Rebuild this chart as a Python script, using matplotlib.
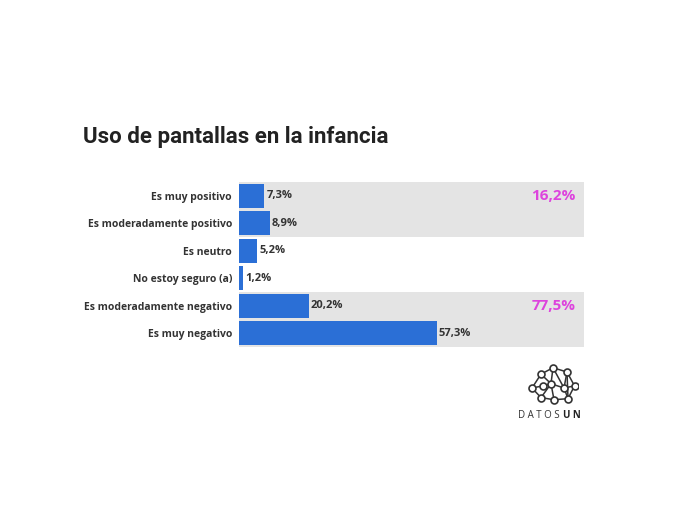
import matplotlib
matplotlib.use("Agg")
import matplotlib.pyplot as plt
from matplotlib.lines import Line2D

categories = ["Es muy positivo", "Es moderadamente positivo", "Es neutro",
              "No estoy seguro (a)", "Es moderadamente negativo", "Es muy negativo"]
values = [7.3, 8.9, 5.2, 1.2, 20.2, 57.3]
value_labels = ["7,3%", "8,9%", "5,2%", "1,2%", "20,2%", "57,3%"]
group_rows = [(0, 1), (4, 5)]
group_labels = ["16,2%", "77,5%"]
title = "Uso de pantallas en la infancia"

BLUE = "#2b6fd6"
GRAY = "#e4e4e4"
PINK = "#dd44dd"
TXT = "#333333"

fig = plt.figure(figsize=(6.96, 5.2), dpi=100)
ax = fig.add_axes([239/696, 1-347/520, (584-239)/696, (347-182)/520])

ypos = list(range(len(categories)))
for (a, b), lab in zip(group_rows, group_labels):
    ax.axhspan(a - 0.5, b + 0.5, color=GRAY, zorder=0, lw=0)
    ax.text(97.6, a, lab, ha="right", va="center", color=PINK,
            fontsize=11, fontweight="bold", family="Open Sans")

ax.barh(ypos, values, height=0.88, color=BLUE, zorder=2)
for y, v, lab in zip(ypos, values, value_labels):
    ax.text(v + 0.6, y, lab, ha="left", va="center", color=TXT,
            fontsize=8, fontweight="bold", family="Open Sans")

ax.set_xlim(0, 100)
ax.set_ylim(len(categories) - 0.5, -0.5)
ax.set_yticks(ypos)
ax.set_yticklabels(categories, fontsize=7.5, fontweight="bold", color=TXT, family="Open Sans")
ax.tick_params(axis="y", length=0, pad=5)
ax.set_xticks([])
for s in ax.spines.values():
    s.set_visible(False)

fig.text(83/696, 1-137/520, title, ha="left", va="center", fontsize=16,
         fontweight="bold", color="#222222", family="Roboto")

# Logo (decorative)
lx = fig.add_axes([528/696, 1-404/520, 50/696, 40/520])
lx.set_xlim(0, 10); lx.set_ylim(0, 7.5); lx.axis("off")
nodes = [(0.8, 3.0), (2.6, 5.6), (5.0, 6.8), (7.8, 6.0), (9.3, 3.4), (8.0, 1.0), (5.2, 0.8),
         (2.6, 1.2), (4.6, 3.8), (7.2, 3.0), (3.0, 3.4)]
edges = [(0, 1), (1, 2), (2, 3), (3, 4), (4, 5), (5, 6), (6, 7), (7, 0), (1, 8), (8, 2),
         (8, 9), (9, 3), (9, 4), (9, 5), (8, 6), (8, 7), (3, 5), (2, 9), (10, 8), (0, 10)]
for a, b in edges:
    lx.add_line(Line2D([nodes[a][0], nodes[b][0]], [nodes[a][1], nodes[b][1]],
                       color="#333333", lw=1.1))
for x, y in nodes:
    lx.plot(x, y, "o", ms=5, mfc="white", mec="#333333", mew=1.2)
fig.text(560/696, 1-416/520, "D A T O S", ha="right", va="center", fontsize=7,
         color="#333333", family="Open Sans")
fig.text(563/696, 1-416/520, "U N", ha="left", va="center", fontsize=7,
         color="#222222", fontweight="bold", family="Open Sans")

fig.savefig("out.png", dpi=100, facecolor="white")
